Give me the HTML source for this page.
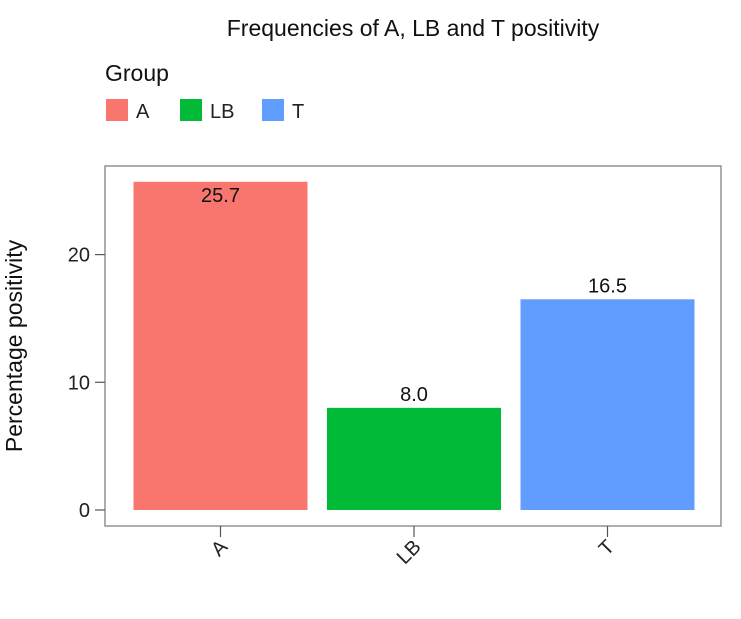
<!DOCTYPE html>
<html><head><meta charset="utf-8"><style>
body{margin:0;background:#fff}
svg{display:block;font-family:"Liberation Sans",sans-serif}
</style></head><body>
<svg width="741" height="619" viewBox="0 0 741 619">
<text x="413" y="36" font-size="23" text-anchor="middle" fill="#111">Frequencies of A, LB and T positivity</text>
<text x="105" y="81" font-size="23" fill="#111">Group</text>
<g id="legend"></g>
<rect x="105" y="166" width="616" height="360" fill="none" stroke="#777" stroke-width="1.2"/>
<g id="yaxis"></g>
<g id="bars"></g>
<g id="xaxis"></g>
<text transform="translate(22,346) rotate(-90)" font-size="23" text-anchor="middle" fill="#111">Percentage positivity</text>
</svg>
<script>
const categories=["A","LB","T"];
const values=[25.7,8.0,16.5];
const colors=["#F8766D","#00BA38","#619CFF"];
const yTicks=[0,10,20];
const NS="http://www.w3.org/2000/svg";
function mk(t,a,p){const e=document.createElementNS(NS,t);for(const k in a)e.setAttribute(k,a[k]);p.appendChild(e);return e;}
const y0=510,pxPer=12.77;
function y(v){return y0-v*pxPer;}
const left=105,bw=174,step=193.5,firstCx=220.5;
function cx(i){return firstCx+i*step;}
const ya=document.getElementById('yaxis');
yTicks.forEach(t=>{
 const l=mk('line',{x1:95,x2:105,y1:y(t),y2:y(t),stroke:'#555','stroke-width':1.2},ya);
 
 
 const tx=mk('text',{x:90,y:y(t)+7,'font-size':20,'text-anchor':'end',fill:'#222'},ya);
 tx.textContent=t;
 
 
});
const bg=document.getElementById('bars'),xa=document.getElementById('xaxis'),lg=document.getElementById('legend');
categories.forEach((c,i)=>{
 const r=mk('rect',{x:cx(i)-bw/2,y:y(values[i]),width:bw,height:y(0)-y(values[i]),fill:colors[i]},bg);
 
 
 const lab=mk('text',{x:cx(i),y:i==0?y(values[i])+20:y(values[i])-7,'font-size':20,'text-anchor':'middle',fill:'#111'},bg);
 lab.textContent=values[i].toFixed(1);
 
 
 const tk=mk('line',{x1:cx(i),x2:cx(i),y1:526,y2:537,stroke:'#555','stroke-width':1.2},xa);
 
 
 const xt=mk('text',{transform:`translate(${cx(i)+8},548) rotate(-45)`,'font-size':20,'text-anchor':'end',fill:'#222'},xa);
 xt.textContent=c;
 
 
 const lx=[106,180,262][i];
 const sw=mk('rect',{x:lx,y:99,width:22,height:22,fill:colors[i]},lg);
 
 
 const lt=mk('text',{x:lx+30,y:118,'font-size':20,fill:'#222'},lg);
 lt.textContent=c;
 
 
});
</script>
</body></html>
